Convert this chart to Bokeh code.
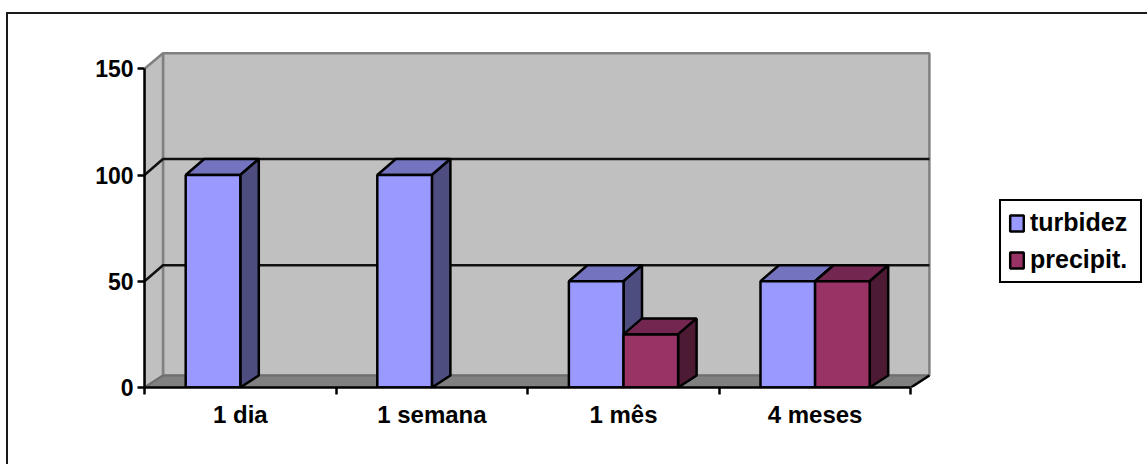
from bokeh.embed import file_html
from bokeh.models import FixedTicker, InlineStyleSheet, Legend, LegendItem, Range1d
from bokeh.plotting import figure
from bokeh.resources import INLINE

# Chart data
categories = ["1 dia", "1 semana", "1 mês", "4 meses"]
turbidez = [100, 100, 50, 50]
precipit = [0, 0, 25, 50]
y_ticks = [0, 50, 100, 150]

# Canvas and scale layout, in pixels
WIDTH, HEIGHT = 1147, 464
LEFT, BASE = 144, 387
CAT_PX, UNIT_PX = 191.6, 2.125
BAR_W = 0.285
FONT = "Liberation Sans"

# Oblique depth of the 3D box, converted to data units
DX = 18.5 / CAT_PX
DY_TOP = 16.0 / UNIT_PX
DY_FLOOR = 12.0 / UNIT_PX
WALL_TOP = 150 + 15.5 / UNIT_PX
N = len(categories)
WALL_RIGHT = N + DX

# Outer chart border, open at the right and bottom of the page
border = InlineStyleSheet(css="""
:host::before {
  content: ""; position: absolute; left: 6px; top: 12px;
  width: 1141px; height: 452px; box-sizing: border-box;
  border-left: 2px solid #1a1a1a; border-top: 2px solid #1a1a1a;
  pointer-events: none; z-index: 5;
}
""")

p = figure(width=WIDTH, height=HEIGHT, output_backend="svg", toolbar_location=None,
           x_range=Range1d(0, (WIDTH - LEFT) / CAT_PX), y_range=Range1d(0, BASE / UNIT_PX),
           min_border_left=LEFT, min_border_bottom=HEIGHT - BASE, min_border_top=0,
           min_border_right=0, outline_line_color=None, tools="", stylesheets=[border])
p.grid.visible = False

# Back wall, side wall and floor
GRAY = "#c0c0c0"
EDGE = "#808080"
p.patch([DX, WALL_RIGHT, WALL_RIGHT, DX], [DY_FLOOR, DY_FLOOR, WALL_TOP, WALL_TOP],
        fill_color=GRAY, line_color=EDGE, line_width=2.5)
p.patch([0, DX, DX, 0], [0, DY_FLOOR, WALL_TOP, 150],
        fill_color=GRAY, line_color=EDGE, line_width=2.5)
p.patch([0, DX, WALL_RIGHT, N], [0, DY_FLOOR, DY_FLOOR, 0],
        fill_color=EDGE, line_color="#6e6e6e", line_width=2)
p.line([N, WALL_RIGHT], [0, DY_FLOOR], line_color="black", line_width=2.5)

# Gridlines wrap from the side wall across the back wall
grid_vals = [v for v in y_ticks if 0 < v < 150]
p.multi_line([[0, DX, WALL_RIGHT] for _ in grid_vals],
             [[v, v + DY_TOP, v + DY_TOP] for v in grid_vals],
             line_color="#111111", line_width=2.5)


def draw_bars(values, lefts, front, top, side):
    """Draw one series as 3D columns: top and side faces, then the front."""
    xs, ys, vals = [], [], []
    for v, x0 in zip(values, lefts):
        if v > 0:
            xs.append(x0)
            ys.append(x0 + BAR_W)
            vals.append(v)
    p.patches([[a, a + DX, b + DX, b] for a, b in zip(xs, ys)],
              [[v, v + DY_TOP, v + DY_TOP, v] for v in vals],
              fill_color=top, line_color="black", line_width=2.5)
    p.patches([[b, b + DX, b + DX, b] for b in ys],
              [[0, DY_FLOOR, v + DY_TOP, v] for v in vals],
              fill_color=side, line_color="black", line_width=2.5)
    return p.quad(left=xs, right=ys, bottom=0, top=vals,
                  fill_color=front, line_color="black", line_width=2.5)


centers = [i + 0.5 for i in range(N)]
r1 = draw_bars(turbidez, [c - BAR_W for c in centers], "#9999ff", "#7373bf", "#4d4d80")
r2 = draw_bars(precipit, centers, "#993366", "#732650", "#4d1a33")

# Axes
ya = p.yaxis[0]
ya.ticker = FixedTicker(ticks=y_ticks)
ya.bounds = (0, 150)
ya.axis_line_color = "black"
ya.axis_line_width = 2.5
ya.major_tick_line_width = 2.5
ya.major_tick_out = 7
ya.major_tick_in = 0
ya.minor_tick_line_color = None
ya.major_label_standoff = 4
ya.major_label_text_font = FONT
ya.major_label_text_font_style = "bold"
ya.major_label_text_font_size = "23px"
ya.major_label_text_color = "black"

xa = p.xaxis[0]
xa.ticker = FixedTicker(ticks=centers, minor_ticks=list(range(N + 1)))
xa.major_label_overrides = {c: name for c, name in zip(centers, categories)}
xa.bounds = (0, N)
xa.axis_line_color = "black"
xa.axis_line_width = 2.5
xa.major_tick_line_color = None
xa.major_tick_out = 0
xa.major_tick_in = 0
xa.minor_tick_line_color = "black"
xa.minor_tick_line_width = 2.5
xa.minor_tick_out = 7
xa.minor_tick_in = 0
xa.major_label_standoff = 6
xa.major_label_text_font = FONT
xa.major_label_text_font_style = "bold"
xa.major_label_text_font_size = "24px"
xa.major_label_text_color = "black"

# Legend box placed in the free area right of the plot box
legend = Legend(items=[LegendItem(label="turbidez", renderers=[r1]),
                       LegendItem(label="precipit.", renderers=[r2])],
                location=(999 - LEFT, BASE - 283), orientation="vertical",
                border_line_color="black", border_line_width=2.5, border_line_alpha=1,
                background_fill_color="white", background_fill_alpha=1,
                label_text_font=FONT, label_text_font_style="bold",
                label_text_font_size="25px", label_text_color="black",
                glyph_width=17, glyph_height=20, label_standoff=5,
                padding=7, spacing=8, margin=0, label_height=20, label_width=103)
p.add_layout(legend, "center")

open("out.html", "w").write(file_html(p, INLINE))
